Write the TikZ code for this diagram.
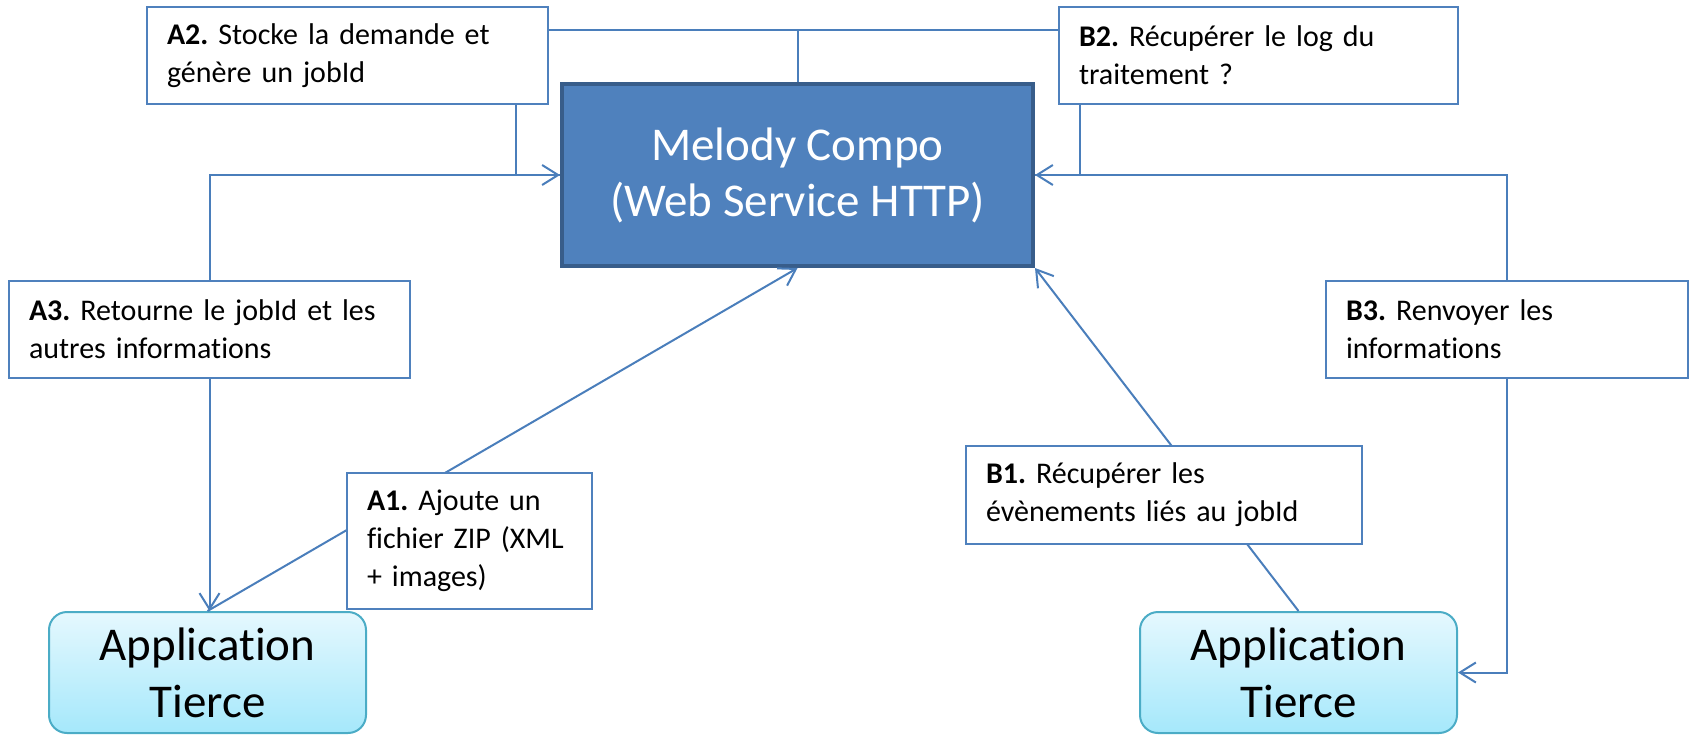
\documentclass[tikz,border=0pt]{standalone}
\usepackage{fontspec}
\setmainfont{Carlito}[Ligatures={NoCommon,NoContextual}]
\usepackage{tikz}
\usetikzlibrary{arrows.meta}
\frenchspacing
\newcommand{\nolig}{\kern0pt}
\definecolor{linkblue}{HTML}{4A7EBB}
\definecolor{coreblue}{HTML}{4F81BD}
\definecolor{coreedge}{HTML}{385D8A}
\definecolor{apptop}{HTML}{E5F8FE}
\definecolor{appbottom}{HTML}{A5E8FB}
\definecolor{appedge}{HTML}{4BACC6}
\tikzstyle{note}=[draw=coreblue, fill=white, line width=1pt, inner xsep=10pt,
                  align=left, minimum height=48.5pt,
                  font=\fontsize{15}{19}\selectfont]
\tikzstyle{core}=[draw=coreedge, fill=coreblue, line width=2pt, text=white,
                  align=center, minimum width=235.5pt, minimum height=91pt,
                  font=\fontsize{23.5}{28}\selectfont]
\tikzstyle{app}=[draw=appedge, line width=1pt, rounded corners=9pt,
                 top color=apptop, bottom color=appbottom, align=center,
                 minimum width=158.5pt, minimum height=60.5pt,
                 font=\fontsize{23.5}{28.5}\selectfont]
\tikzstyle{link}=[linkblue, line width=1pt]
\tikzstyle{flow-arrow}=[link, -{Straight Barb[length=8pt,width=10pt]}]

\begin{document}
\begin{tikzpicture}[x=0.5pt,y=-0.5pt]
\useasboundingbox (0,0) rectangle (1692,735);
\node[core] (core) at (797.5,175) {Melody Compo\\(Web Service HTTP)};
\node[app] (appl) at (207.5,672.5) {Applicat\nolig ion\\Tierce};
\node[app] (appr) at (1298.5,672.5) {Applicat\nolig ion\\Tierce};
\node[note, text width=180.5pt] (a2) at (347.5,55.5)
  {\textbf{A2.} Stocke la demande et\\génère un jobId};
\node[note, text width=179.5pt] (b2) at (1258.5,55.5)
  {\textbf{B2.} Récupérer le log du\\traitement ?};
\node[note, text width=180.5pt] (a3) at (209.5,329.5)
  {\textbf{A3.} Retourne le jobId et les\\autres informat\nolig ions};
\node[note, text width=161pt] (b3) at (1507,329.5)
  {\textbf{B3.} Renvoyer les\\informat\nolig ions};

% links from the notes to the web service
\coordinate (a2top) at ([yshift=-12pt]a2.north east);
\coordinate (b2top) at ([yshift=-12pt]b2.north west);
\draw[link] (a2top) -- (b2top);
\draw[link] (core.north) -- (core.north |- a2top);
\draw[link] ([xshift=-16.5pt]a2.south east) |- (core.west);
\draw[link] ([xshift=11pt]b2.south west) |- (core.east);
\draw[flow-arrow] (a3.north) |- (core.west);
\draw[flow-arrow] (b3.north) |- (core.east);
\draw[flow-arrow] (a3.south) -- (a3.south |- appl.north);
\draw[flow-arrow] (b3.south) |- (appr.east);
\draw[flow-arrow] (appl.north) -- (core.south);
\draw[flow-arrow] (appr.north) -- (core.south east);

\node[note, text width=102.5pt, minimum height=68pt] (a1) at (469.5,541)
  {\textbf{A1.} Ajoute un\\fichier ZIP (XML\\+ images)};
\node[note, text width=178pt, minimum height=49pt] (b1) at (1164,495)
  {\textbf{B1.} Récupérer les\\évènements liés au jobId};
\end{tikzpicture}
\end{document}
